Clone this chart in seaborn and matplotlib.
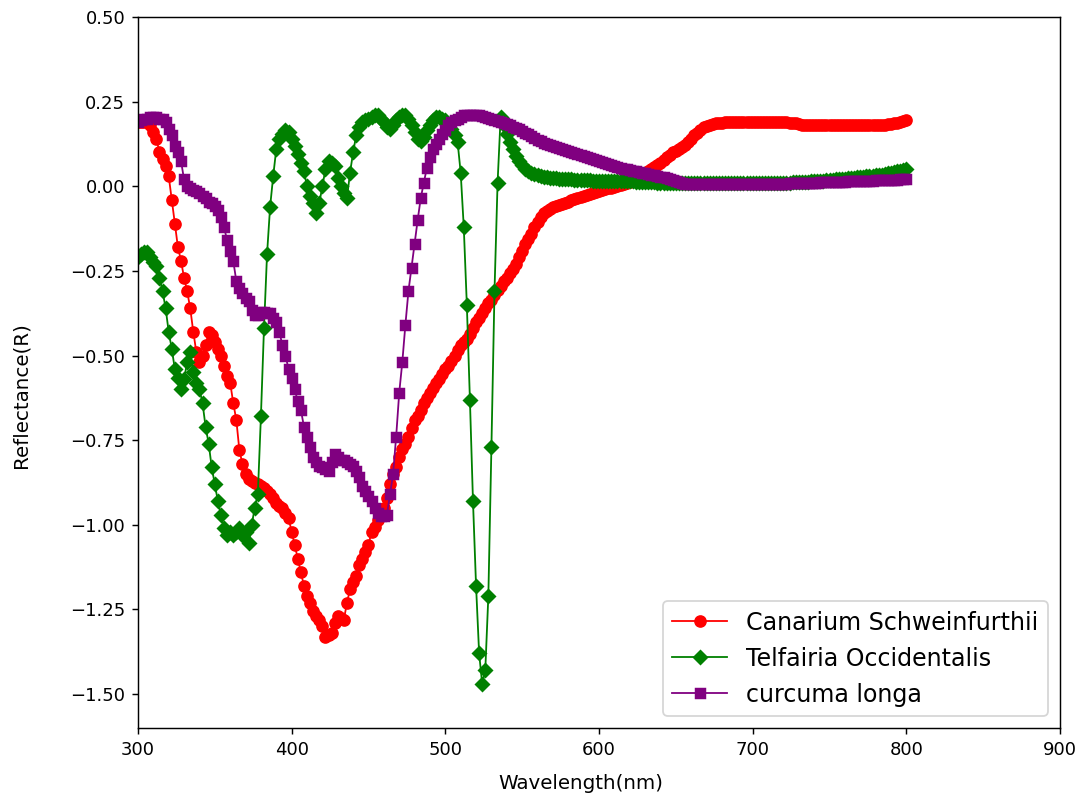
import numpy as np
import pandas as pd
import matplotlib
matplotlib.use("Agg")
import matplotlib.pyplot as plt
import seaborn as sns

# ---------------------------------------------------------------------------
# Data (2 nm steps from 300 to 800 nm)
# ---------------------------------------------------------------------------

wavelength = list(range(300, 801, 2))

canarium = [
    0.19, 0.19, 0.19, 0.19, 0.18, 0.16, 0.14, 0.10, 0.08, 0.06,
    0.03, -0.04, -0.11, -0.18, -0.22, -0.27, -0.31, -0.36, -0.43, -0.49,
    -0.52, -0.50, -0.47, -0.43, -0.44, -0.46, -0.48, -0.50, -0.53, -0.56,
    -0.58, -0.64, -0.69, -0.78, -0.82, -0.85, -0.865, -0.87, -0.875, -0.88,
    -0.885, -0.89, -0.90, -0.91, -0.92, -0.935, -0.945, -0.95, -0.965, -0.98,
    -1.02, -1.06, -1.10, -1.14, -1.18, -1.21, -1.23, -1.255, -1.27, -1.28,
    -1.30, -1.33, -1.325, -1.32, -1.29, -1.27, -1.275, -1.28, -1.23, -1.19,
    -1.17, -1.15, -1.12, -1.10, -1.08, -1.06, -1.02, -1.005, -0.985, -0.965,
    -0.95, -0.92, -0.88, -0.85, -0.83, -0.80, -0.775, -0.76, -0.74, -0.715,
    -0.69, -0.68, -0.66, -0.64, -0.625, -0.61, -0.595, -0.58, -0.57, -0.555,
    -0.54, -0.53, -0.515, -0.50, -0.485, -0.47, -0.46, -0.45, -0.435, -0.42,
    -0.40, -0.39, -0.375, -0.36, -0.345, -0.335, -0.32, -0.305, -0.295, -0.28,
    -0.27, -0.255, -0.245, -0.23, -0.21, -0.19, -0.17, -0.155, -0.14, -0.12,
    -0.105, -0.09, -0.08, -0.072, -0.066, -0.062, -0.058, -0.055, -0.052, -0.048,
    -0.045, -0.042, -0.038, -0.035, -0.032, -0.029, -0.026, -0.022, -0.019, -0.016,
    -0.013, -0.01, -0.008, -0.006, -0.004, -0.002, 0.0, 0.003, 0.006, 0.009,
    0.012, 0.017, 0.022, 0.028, 0.034, 0.04, 0.046, 0.052, 0.058, 0.064,
    0.07, 0.077, 0.085, 0.093, 0.10, 0.105, 0.11, 0.115, 0.122, 0.13,
    0.14, 0.15, 0.158, 0.166, 0.174, 0.178, 0.182, 0.185, 0.187, 0.188,
    0.188, 0.189, 0.19, 0.19, 0.19, 0.19, 0.19, 0.19, 0.19, 0.19,
    0.19, 0.19, 0.19, 0.19, 0.19, 0.19, 0.19, 0.19, 0.19, 0.19,
    0.19, 0.189, 0.188, 0.187, 0.186, 0.184, 0.182, 0.181, 0.18, 0.18,
    0.18, 0.18, 0.18, 0.18, 0.18, 0.18, 0.18, 0.18, 0.18, 0.18,
    0.18, 0.18, 0.18, 0.18, 0.18, 0.18, 0.18, 0.18, 0.18, 0.18,
    0.18, 0.18, 0.181, 0.182, 0.183, 0.184, 0.186, 0.188, 0.19, 0.192,
    0.195,
]

telfairia = [
    -0.21, -0.20, -0.195, -0.195, -0.21, -0.225, -0.235, -0.27, -0.31, -0.36,
    -0.43, -0.48, -0.54, -0.565, -0.60, -0.57, -0.52, -0.49, -0.55, -0.58,
    -0.60, -0.64, -0.71, -0.76, -0.83, -0.88, -0.93, -0.97, -1.01, -1.03,
    -1.02, -1.03, -1.02, -1.01, -1.03, -1.02, -1.055, -1.00, -0.95, -0.91,
    -0.68, -0.42, -0.20, -0.06, 0.03, 0.11, 0.14, 0.155, 0.165, 0.16,
    0.14, 0.12, 0.095, 0.07, 0.045, 0.0, -0.03, -0.05, -0.08, -0.05,
    0.0, 0.05, 0.075, 0.07, 0.06, 0.025, 0.0, -0.02, -0.035, 0.04,
    0.10, 0.15, 0.175, 0.19, 0.195, 0.20, 0.205, 0.21, 0.21, 0.20,
    0.19, 0.175, 0.17, 0.18, 0.195, 0.205, 0.21, 0.21, 0.20, 0.18,
    0.16, 0.14, 0.135, 0.145, 0.165, 0.18, 0.195, 0.205, 0.205, 0.20,
    0.195, 0.185, 0.17, 0.15, 0.13, 0.04, -0.12, -0.35, -0.63, -0.93,
    -1.18, -1.38, -1.47, -1.43, -1.21, -0.77, -0.31, 0.01, 0.205, 0.18,
    0.155, 0.13, 0.11, 0.09, 0.075, 0.062, 0.052, 0.045, 0.04, 0.035,
    0.032, 0.03, 0.028, 0.026, 0.025, 0.024, 0.023, 0.022, 0.021, 0.02,
    0.02, 0.02, 0.019, 0.019, 0.019, 0.018, 0.018, 0.018, 0.017, 0.017,
    0.017, 0.017, 0.017, 0.017, 0.017, 0.016, 0.016, 0.016, 0.016, 0.016,
    0.015, 0.015, 0.014, 0.014, 0.013, 0.013, 0.012, 0.012, 0.012, 0.011,
    0.011, 0.011, 0.011, 0.011, 0.011, 0.01, 0.01, 0.01, 0.01, 0.01,
    0.01, 0.01, 0.01, 0.01, 0.01, 0.01, 0.01, 0.01, 0.01, 0.01,
    0.01, 0.01, 0.009, 0.009, 0.009, 0.009, 0.009, 0.009, 0.009, 0.009,
    0.009, 0.009, 0.009, 0.009, 0.01, 0.01, 0.01, 0.01, 0.01, 0.01,
    0.01, 0.011, 0.011, 0.012, 0.012, 0.013, 0.013, 0.014, 0.014, 0.015,
    0.015, 0.016, 0.016, 0.017, 0.018, 0.018, 0.019, 0.02, 0.02, 0.021,
    0.022, 0.023, 0.024, 0.025, 0.026, 0.027, 0.028, 0.029, 0.03, 0.031,
    0.032, 0.033, 0.034, 0.036, 0.038, 0.04, 0.042, 0.044, 0.046, 0.048,
    0.05,
]

curcuma = [
    0.19, 0.195, 0.2, 0.2, 0.205, 0.205, 0.205, 0.2, 0.2, 0.19,
    0.17, 0.15, 0.12, 0.10, 0.075, 0.02, 0.0, -0.005, -0.01, -0.015,
    -0.02, -0.028, -0.035, -0.045, -0.05, -0.057, -0.07, -0.09, -0.12, -0.16,
    -0.19, -0.22, -0.28, -0.30, -0.315, -0.33, -0.34, -0.365, -0.38, -0.38,
    -0.37, -0.37, -0.375, -0.375, -0.39, -0.40, -0.43, -0.47, -0.50, -0.54,
    -0.565, -0.60, -0.635, -0.66, -0.71, -0.74, -0.77, -0.80, -0.815, -0.825,
    -0.83, -0.835, -0.84, -0.815, -0.79, -0.80, -0.81, -0.81, -0.815, -0.82,
    -0.825, -0.84, -0.86, -0.885, -0.90, -0.915, -0.93, -0.95, -0.965, -0.975,
    -0.975, -0.97, -0.91, -0.85, -0.74, -0.61, -0.52, -0.41, -0.31, -0.24,
    -0.17, -0.10, -0.035, 0.01, 0.055, 0.085, 0.11, 0.125, 0.14, 0.155,
    0.165, 0.18, 0.19, 0.195, 0.2, 0.205, 0.21, 0.21, 0.21, 0.21,
    0.21, 0.21, 0.208, 0.205, 0.203, 0.2, 0.197, 0.193, 0.19, 0.186,
    0.185, 0.18, 0.176, 0.172, 0.168, 0.163, 0.158, 0.153, 0.148, 0.142,
    0.137, 0.133, 0.129, 0.125, 0.121, 0.118, 0.115, 0.112, 0.109, 0.106,
    0.103, 0.1, 0.097, 0.094, 0.091, 0.088, 0.086, 0.083, 0.08, 0.078,
    0.076, 0.073, 0.07, 0.067, 0.064, 0.061, 0.058, 0.055, 0.052, 0.05,
    0.048, 0.046, 0.044, 0.042, 0.04, 0.038, 0.036, 0.034, 0.032, 0.03,
    0.028, 0.026, 0.024, 0.021, 0.018, 0.015, 0.012, 0.01, 0.008, 0.007,
    0.007, 0.007, 0.006, 0.006, 0.006, 0.006, 0.006, 0.006, 0.006, 0.006,
    0.006, 0.006, 0.006, 0.006, 0.006, 0.006, 0.006, 0.006, 0.006, 0.006,
    0.006, 0.006, 0.006, 0.007, 0.007, 0.007, 0.007, 0.007, 0.008, 0.008,
    0.008, 0.008, 0.009, 0.009, 0.009, 0.01, 0.01, 0.01, 0.01, 0.011,
    0.011, 0.011, 0.012, 0.012, 0.012, 0.013, 0.013, 0.013, 0.014, 0.014,
    0.014, 0.015, 0.015, 0.015, 0.016, 0.016, 0.016, 0.017, 0.017, 0.017,
    0.018, 0.018, 0.018, 0.018, 0.019, 0.019, 0.019, 0.019, 0.02, 0.02,
    0.02,
]

series = [
    ("Canarium Schweinfurthii", canarium, "red", "o", 6.2),
    ("Telfairia Occidentalis", telfairia, "green", "D", 5.6),
    ("curcuma longa", curcuma, "purple", "s", 5.6),
]

# ---------------------------------------------------------------------------
# Plot
# ---------------------------------------------------------------------------

DPI = 130
fig = plt.figure(figsize=(1088 / DPI, 805 / DPI), dpi=DPI)
ax = fig.add_axes([0.1268, 0.0957, 0.8475, 0.8832])

for label, values, color, marker, ms in series:
    df = pd.DataFrame({"wavelength": wavelength, "R": values})
    sns.lineplot(
        data=df, x="wavelength", y="R", ax=ax, label=label,
        color=color, marker=marker, markersize=ms,
        markeredgecolor=color, markeredgewidth=0.8, linewidth=1.0,
        estimator=None, errorbar=None, sort=False,
    )

ax.set_xlim(300, 900)
ax.set_ylim(-1.6, 0.5)
ax.set_xticks(range(300, 901, 100))
ax.set_yticks(np.arange(-1.5, 0.51, 0.25))
ax.set_xlabel("Wavelength(nm)", fontsize=11)
ax.set_ylabel("Reflectance(R)", fontsize=11)
ax.xaxis.set_label_coords(0.48, -0.065)
ax.yaxis.set_label_coords(-0.117, 0.468)
ax.legend(loc="lower right", fontsize=13.2, handlelength=2.3)

fig.savefig("out.png", dpi=DPI)
plt.close(fig)
print("saved out.png")
